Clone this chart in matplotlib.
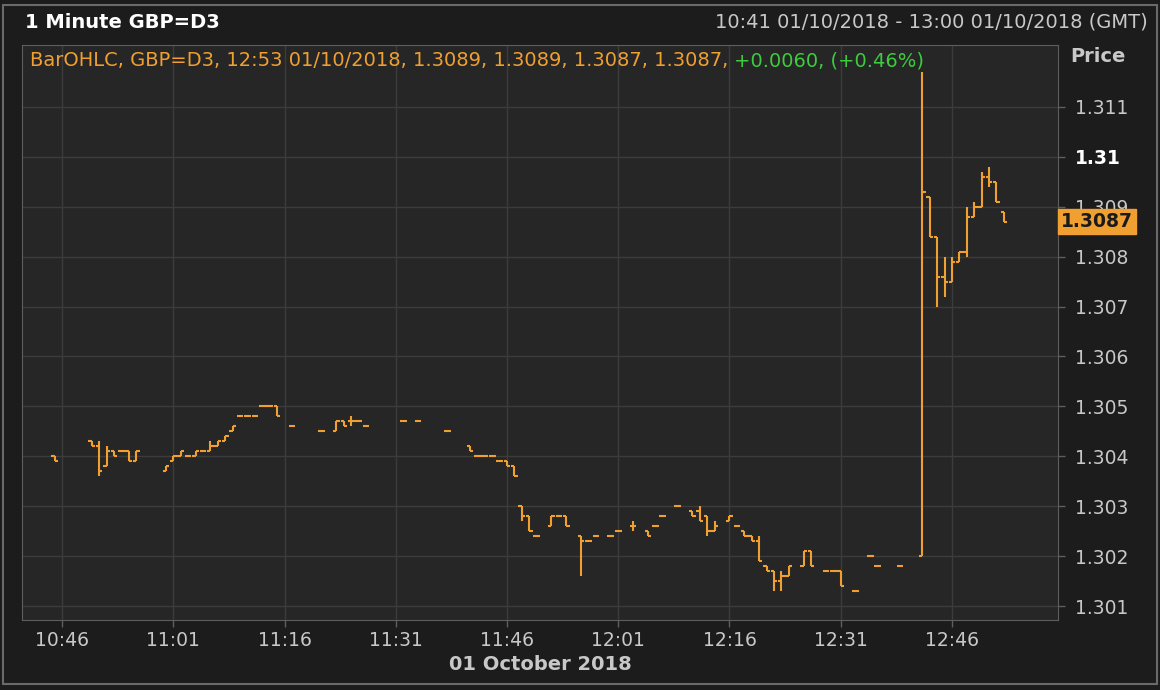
import matplotlib.pyplot as plt
from matplotlib.patches import Rectangle

# 1 minute bars, GBP=D3, 01/10/2018 (missing minutes had no trades)
times = ["10:45", "10:50", "10:51", "10:52", "10:53", "10:54", "10:55", "10:56",
         "11:00", "11:01", "11:02", "11:03", "11:04", "11:05", "11:06", "11:07",
         "11:08", "11:09", "11:10", "11:11", "11:12", "11:13", "11:14", "11:15",
         "11:17", "11:21", "11:23", "11:24", "11:25", "11:26", "11:27", "11:32",
         "11:34", "11:38", "11:41", "11:42", "11:43", "11:44", "11:45", "11:46",
         "11:47", "11:48", "11:49", "11:50", "11:52", "11:53", "11:54", "11:56",
         "11:57", "11:58", "12:00", "12:01", "12:03", "12:05", "12:06", "12:07",
         "12:09", "12:11", "12:12", "12:13", "12:14", "12:16", "12:17", "12:18",
         "12:19", "12:20", "12:21", "12:22", "12:23", "12:24", "12:26", "12:27",
         "12:29", "12:30", "12:31", "12:33", "12:35", "12:36", "12:39", "12:42",
         "12:43", "12:44", "12:45", "12:46", "12:47", "12:48", "12:49", "12:50",
         "12:51", "12:52", "12:53"]

opens = [1.3040, 1.3043, 1.3042, 1.3038, 1.3041, 1.3041, 1.3041, 1.3039,
         1.3037, 1.3039, 1.3040, 1.3040, 1.3040, 1.3041, 1.3041, 1.3042,
         1.3043, 1.3045, 1.3048, 1.3048, 1.3048, 1.3050, 1.3050, 1.3050,
         1.3046, 1.3045, 1.3045, 1.3047, 1.3047, 1.3047, 1.3046, 1.3047,
         1.3047, 1.3045, 1.3042, 1.3040, 1.3040, 1.3040, 1.3039, 1.3039,
         1.3038, 1.3030, 1.3028, 1.3024, 1.3026, 1.3028, 1.3028, 1.3024,
         1.3023, 1.3024, 1.3024, 1.3025, 1.3026, 1.3025, 1.3026, 1.3028,
         1.3030, 1.3029, 1.3029, 1.3028, 1.3025, 1.3027, 1.3026, 1.3025,
         1.3024, 1.3023, 1.3018, 1.3017, 1.3015, 1.3016, 1.3018, 1.3021,
         1.3017, 1.3017, 1.3017, 1.3013, 1.3020, 1.3018, 1.3018, 1.3020,
         1.3092, 1.3084, 1.3076, 1.3075, 1.3079, 1.3081, 1.3088, 1.3090,
         1.3096, 1.3095, 1.3089]

highs = [1.3040, 1.3043, 1.3043, 1.3042, 1.3041, 1.3041, 1.3041, 1.3041,
         1.3038, 1.3040, 1.3041, 1.3040, 1.3041, 1.3041, 1.3043, 1.3043,
         1.3044, 1.3046, 1.3048, 1.3048, 1.3048, 1.3050, 1.3050, 1.3050,
         1.3046, 1.3045, 1.3047, 1.3047, 1.3048, 1.3047, 1.3046, 1.3047,
         1.3047, 1.3045, 1.3042, 1.3040, 1.3040, 1.3040, 1.3039, 1.3039,
         1.3038, 1.3030, 1.3028, 1.3024, 1.3028, 1.3028, 1.3028, 1.3024,
         1.3023, 1.3024, 1.3024, 1.3025, 1.3027, 1.3025, 1.3026, 1.3028,
         1.3030, 1.3029, 1.3030, 1.3028, 1.3027, 1.3028, 1.3026, 1.3025,
         1.3024, 1.3024, 1.3018, 1.3017, 1.3017, 1.3018, 1.3021, 1.3021,
         1.3017, 1.3017, 1.3017, 1.3013, 1.3020, 1.3018, 1.3018, 1.3117,
         1.3092, 1.3084, 1.3080, 1.3080, 1.3081, 1.3090, 1.3091, 1.3097,
         1.3098, 1.3095, 1.3089]

lows = [1.3039, 1.3042, 1.3036, 1.3038, 1.3040, 1.3041, 1.3039, 1.3039,
        1.3037, 1.3039, 1.3040, 1.3040, 1.3040, 1.3041, 1.3041, 1.3042,
        1.3043, 1.3045, 1.3048, 1.3048, 1.3048, 1.3050, 1.3050, 1.3048,
        1.3046, 1.3045, 1.3045, 1.3046, 1.3046, 1.3047, 1.3046, 1.3047,
        1.3047, 1.3045, 1.3041, 1.3040, 1.3040, 1.3040, 1.3039, 1.3038,
        1.3036, 1.3027, 1.3025, 1.3024, 1.3026, 1.3028, 1.3026, 1.3016,
        1.3023, 1.3024, 1.3024, 1.3025, 1.3025, 1.3024, 1.3026, 1.3028,
        1.3030, 1.3028, 1.3027, 1.3024, 1.3025, 1.3027, 1.3026, 1.3024,
        1.3023, 1.3019, 1.3017, 1.3013, 1.3013, 1.3016, 1.3018, 1.3018,
        1.3017, 1.3017, 1.3014, 1.3013, 1.3020, 1.3018, 1.3018, 1.3020,
        1.3084, 1.3070, 1.3072, 1.3075, 1.3079, 1.3080, 1.3088, 1.3090,
        1.3094, 1.3091, 1.3087]

closes = [1.3039, 1.3042, 1.3037, 1.3041, 1.3040, 1.3041, 1.3039, 1.3041,
          1.3038, 1.3040, 1.3041, 1.3040, 1.3041, 1.3041, 1.3042, 1.3043,
          1.3044, 1.3046, 1.3048, 1.3048, 1.3048, 1.3050, 1.3050, 1.3048,
          1.3046, 1.3045, 1.3047, 1.3046, 1.3047, 1.3047, 1.3046, 1.3047,
          1.3047, 1.3045, 1.3041, 1.3040, 1.3040, 1.3040, 1.3039, 1.3038,
          1.3036, 1.3028, 1.3025, 1.3024, 1.3028, 1.3028, 1.3026, 1.3023,
          1.3023, 1.3024, 1.3024, 1.3025, 1.3026, 1.3024, 1.3026, 1.3028,
          1.3030, 1.3028, 1.3027, 1.3025, 1.3026, 1.3028, 1.3026, 1.3024,
          1.3023, 1.3019, 1.3017, 1.3015, 1.3016, 1.3018, 1.3021, 1.3018,
          1.3017, 1.3017, 1.3014, 1.3013, 1.3020, 1.3018, 1.3018, 1.3093,
          1.3084, 1.3076, 1.3075, 1.3079, 1.3081, 1.3088, 1.3090, 1.3096,
          1.3095, 1.3091, 1.3087]

x_tick_labels = ["10:46", "11:01", "11:16", "11:31", "11:46", "12:01", "12:16", "12:31", "12:46"]
y_ticks = [1.301, 1.302, 1.303, 1.304, 1.305, 1.306, 1.307, 1.308, 1.309, 1.310, 1.311]
last_price = 1.3087


def to_min(t):
    # minutes after 10:41
    h, m = t.split(":")
    return (int(h) - 10) * 60 + int(m) - 41


bg = "#1c1c1c"
plot_bg = "#262626"
grid_col = "#3c3c3c"
spine_col = "#5e5e5e"
text_col = "#c8c8c8"
orange = "#f0a030"
green = "#3dcc3d"

plt.rcParams["font.family"] = "DejaVu Sans"

fig = plt.figure(figsize=(11.6, 6.9), dpi=100, facecolor=bg)
ax = fig.add_axes([22 / 1160, 1 - 620 / 690, 1036 / 1160, 575 / 690])
ax.set_facecolor(plot_bg)

x = [to_min(t) for t in times]
w = 0.45
ax.vlines(x, lows, highs, color=orange, lw=1.5, zorder=3)
ax.hlines(opens, [xi - w for xi in x], x, color=orange, lw=1.5, zorder=3)
ax.hlines(closes, x, [xi + w for xi in x], color=orange, lw=1.5, zorder=3)

ax.set_xlim(-0.4, 139.3)
ax.set_ylim(1.30072, 1.31224)

ax.set_xticks([to_min(t) for t in x_tick_labels])
ax.set_xticklabels(x_tick_labels)
ax.set_yticks(y_ticks)
ax.set_yticklabels(["1.31" if abs(v - 1.31) < 1e-9 else f"{v:.3f}" for v in y_ticks])
ax.yaxis.tick_right()
ax.tick_params(axis="both", colors=spine_col, labelcolor=text_col, labelsize=13.5,
               length=5, width=1)
ax.tick_params(axis="y", pad=7)
ax.tick_params(axis="x", pad=3)
for lbl in ax.get_yticklabels():
    if lbl.get_text() == "1.31":
        lbl.set_fontweight("bold")
        lbl.set_color("white")

ax.grid(True, color=grid_col, lw=1)
ax.set_axisbelow(True)
for s in ax.spines.values():
    s.set_color(spine_col)

# header texts
fig.text(25 / 1160, 1 - 22 / 690, "1 Minute GBP=D3", color="white", fontsize=14,
         fontweight="bold", va="center", ha="left")
fig.text(1148 / 1160, 1 - 22 / 690, "10:41 01/10/2018 - 13:00 01/10/2018 (GMT)",
         color=text_col, fontsize=14, va="center", ha="right")
fig.text(1098 / 1160, 1 - 57 / 690, "Price", color=text_col, fontsize=14,
         fontweight="bold", va="center", ha="center")
fig.text(540 / 1160, 1 - 665 / 690, "01 October 2018", color=text_col, fontsize=14,
         fontweight="bold", va="center", ha="center")

# legend line
t1 = ax.text(0.0075, 0.973, "BarOHLC, GBP=D3, 12:53 01/10/2018, 1.3089, 1.3089, 1.3087, 1.3087, ",
             transform=ax.transAxes, color=orange, fontsize=14, va="center", ha="left")
ax.annotate("+0.0060, (+0.46%)", xy=(1, 0.5), xycoords=t1, color=green, fontsize=14,
            va="center", ha="left")

# last price marker
ax.annotate(f"{last_price:.4f}", xy=(1, last_price), xycoords=("axes fraction", "data"),
            xytext=(2, 0), textcoords="offset points", color="#1a1a1a", fontsize=13.5,
            fontweight="bold", va="center", ha="left", annotation_clip=False, zorder=5,
            bbox=dict(boxstyle="square,pad=0.15", fc=orange, ec=orange))

# outer frame
fig.patches.append(Rectangle((0.003, 0.008), 0.994, 0.985, transform=fig.transFigure,
                             fill=False, ec="#6a6a6a", lw=1.5))

fig.savefig("out.png", dpi=100, facecolor=bg)
